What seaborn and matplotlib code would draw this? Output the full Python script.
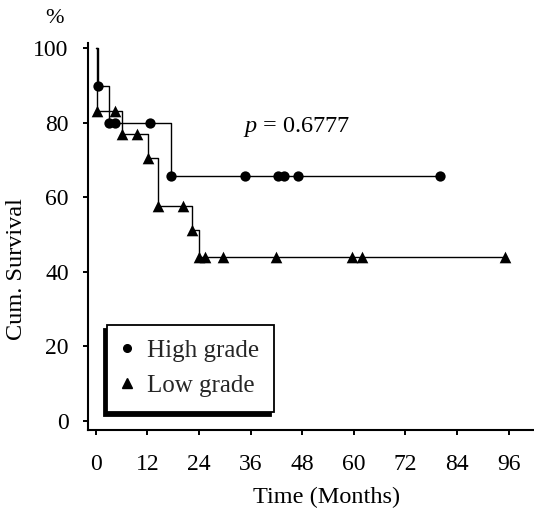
import numpy as np
import pandas as pd
import matplotlib
matplotlib.use("Agg")
import matplotlib.pyplot as plt
from matplotlib.lines import Line2D
import seaborn as sns

# ---- data ----
high_times = [0.6, 3.1, 4.5, 12.7, 17.4, 34.8, 42.3, 43.7, 47.0, 80.1]
high_surv = [90.0, 80.0, 80.0, 80.0, 65.8, 65.8, 65.8, 65.8, 65.8, 65.8]
low_times = [0.4, 4.5, 6.1, 9.5, 12.2, 14.4, 20.4, 22.3, 24.1, 25.5, 29.6, 41.9, 59.5, 61.8, 95.2]
low_surv = [83.3, 83.3, 76.9, 76.9, 70.5, 57.7, 57.7, 51.3, 44.0, 44.0, 44.0, 44.0, 44.0, 44.0, 44.0]
x_ticks = [0, 12, 24, 36, 48, 60, 72, 84, 96]
y_ticks = [0, 20, 40, 60, 80, 100]
group_names = ["High grade", "Low grade"]
p_text = "0.6777"

sns.set_theme(style="ticks")
plt.rcParams["font.family"] = ["Liberation Serif", "DejaVu Serif"]
plt.rcParams["mathtext.fontset"] = "custom"
plt.rcParams["mathtext.it"] = "Liberation Serif:italic"
plt.rcParams["mathtext.rm"] = "Liberation Serif"

FS = 17

fig = plt.figure(figsize=(5.34, 5.12), dpi=100)
ax = fig.add_axes([0.1654, 0.1602, 0.8346, 0.7564])

groups = [(group_names[0], high_times, high_surv, "o", 55),
          (group_names[1], low_times, low_surv, "^", 70)]
for name, t, s, mk, ms in groups:
    line_df = pd.DataFrame({"t": [0.0] + list(t), "s": [100.0] + list(s)})
    ax.plot(line_df["t"], line_df["s"], drawstyle="steps-post", color="black", lw=1.0, zorder=2)
    pts = pd.DataFrame({"t": t, "s": s})
    sns.scatterplot(data=pts, x="t", y="s", marker=mk, s=ms, color="black",
                    edgecolor="black", linewidth=0, ax=ax, zorder=3)

ax.set_xlim(-1.72, 101.9)
ax.set_ylim(-2.41, 101.5)
ax.set_xticks(x_ticks)
ax.set_yticks(y_ticks)
ax.tick_params(axis="both", labelsize=FS, length=3.6, width=1.4, color="black", labelcolor="black")
ax.tick_params(axis="x", pad=13.5)
ax.tick_params(axis="y", pad=10.5)
for side in ["top", "right"]:
    ax.spines[side].set_visible(False)
for side in ["left", "bottom"]:
    ax.spines[side].set_linewidth(1.5)
    ax.spines[side].set_color("black")

ax.set_xlabel("Time (Months)", fontsize=17.5, va="center", color="black")
ax.xaxis.set_label_coords(0.535, -0.173)
ax.set_ylabel("Cum. Survival", fontsize=17.5, va="center", ha="center", color="black")
ax.yaxis.set_label_coords(-0.1607, 0.416)

ax.text(-0.077, 1.062, "%", transform=ax.transAxes, ha="center", va="center",
        fontsize=16, color="black", clip_on=False)
ax.text(0.348, 0.7687, r"$p$ = " + p_text, transform=ax.transAxes, ha="left",
        va="baseline", fontsize=17.5, color="black")

handles = [Line2D([], [], marker="o", color="black", ls="none", markersize=5.5),
           Line2D([], [], marker="^", color="black", ls="none", markersize=6.5)]
leg = ax.legend(handles, group_names, loc="lower left", bbox_to_anchor=(0.0413, 0.0473),
                borderaxespad=0, fontsize=18, frameon=True, fancybox=False,
                handlelength=0.45, handletextpad=0.58, borderpad=0.58, labelspacing=0.5,
                shadow={"ox": -2.2, "oy": -2.8, "color": "black", "alpha": 1})
leg.get_frame().set_edgecolor("black")
leg.get_frame().set_linewidth(1.3)
leg.get_frame().set_alpha(1)

fig.savefig("out.png", dpi=100)
